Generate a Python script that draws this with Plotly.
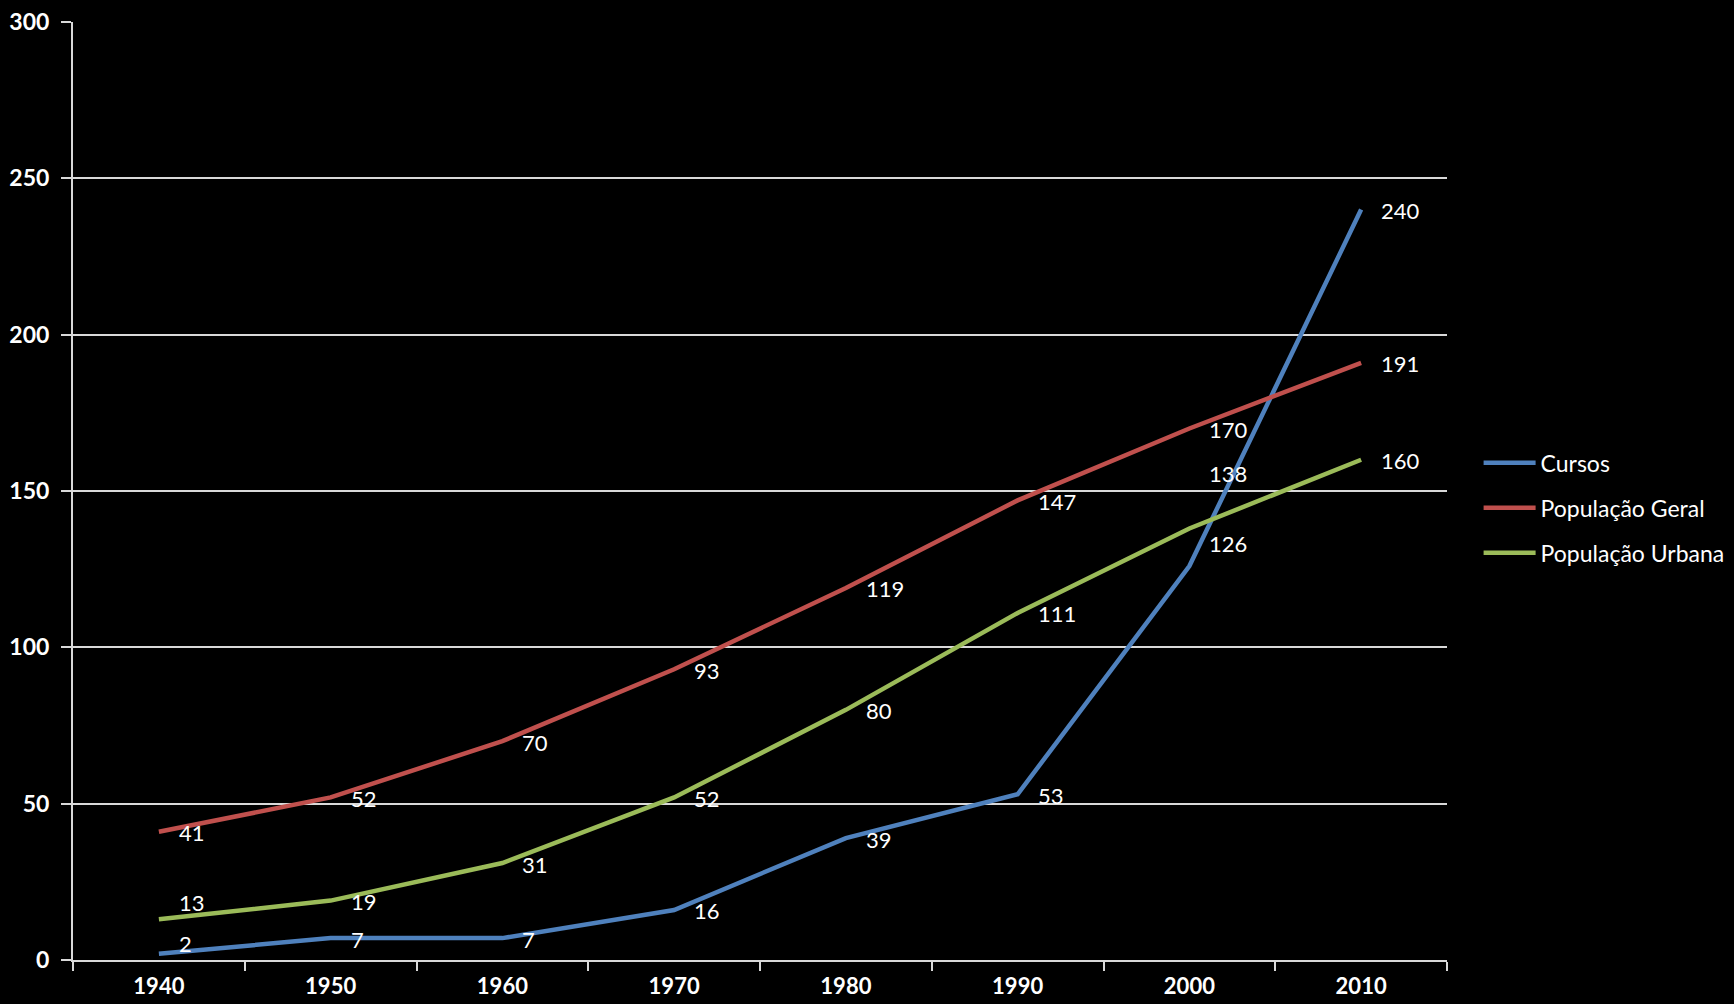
import plotly.graph_objects as go

years = ["1940", "1950", "1960", "1970", "1980", "1990", "2000", "2010"]
cursos = [2, 7, 7, 16, 39, 53, 126, 240]
pop_geral = [41, 52, 70, 93, 119, 147, 170, 191]
pop_urbana = [13, 19, 31, 52, 80, 111, 138, 160]
y_ticks = [0, 50, 100, 150, 200, 250, 300]

series = [
    ("Cursos", cursos, "#4F81BD"),
    ("População Geral", pop_geral, "#C0504D"),
    ("População Urbana", pop_urbana, "#9BBB59"),
]

# vertical label nudges (pixels) for labels moved off their default spot
label_nudge = {
    ("Cursos", 0): 10,
    ("Cursos", 6): 23,
    ("População Urbana", 0): 17,
    ("População Urbana", 6): 55,
}

FONT = "Lato"
fig = go.Figure()
annotations = []
for name, vals, color in series:
    fig.add_trace(go.Scatter(
        x=years, y=vals, name=name, mode="lines",
        line=dict(color=color, width=4.5),
        legendgroup=name,
    ))
    for i, v in enumerate(vals):
        annotations.append(dict(
            x=i, y=v, xref="x", yref="y", text=str(v), showarrow=False,
            xanchor="left", yanchor="middle", xshift=18,
            yshift=label_nudge.get((name, i), -1),
            font=dict(family=FONT, size=22, color="white"),
        ))

fig.update_layout(
    width=1734, height=1004,
    margin=dict(l=73, r=287, t=22, b=44, autoexpand=False),
    paper_bgcolor="black", plot_bgcolor="black",
    font=dict(family=FONT, color="white"),
    annotations=annotations,
    showlegend=True,
    legend=dict(
        x=1.023, y=0.482, xanchor="left", yanchor="middle",
        font=dict(family=FONT, size=23, color="white"),
        bgcolor="rgba(0,0,0,0)", tracegroupgap=12, itemwidth=52,
    ),
)
fig.update_xaxes(
    type="category", categoryorder="array", categoryarray=years,
    range=[-0.5, 7.5], tickson="boundaries", automargin=False,
    showgrid=False, showline=True, linecolor="#D9D9D9", linewidth=2,
    ticks="outside", ticklen=9, tickwidth=2, tickcolor="#D9D9D9",
    tickfont=dict(family=FONT, size=22, color="white", weight="bold"),
    ticklabelstandoff=6, zeroline=False, fixedrange=True,
)
fig.update_yaxes(
    range=[0, 300], tickvals=y_ticks, automargin=False,
    showgrid=True, gridcolor="#D9D9D9", gridwidth=2,
    showline=True, linecolor="#D9D9D9", linewidth=2,
    ticks="outside", ticklen=10, tickwidth=2, tickcolor="#D9D9D9",
    tickfont=dict(family=FONT, size=23, color="white", weight="bold"),
    ticklabelstandoff=7, zeroline=False, fixedrange=True,
)

fig.write_html(
    "out.html",
    config={"displayModeBar": False},
    post_script="document.body.style.margin='0';document.body.style.background='black';",
)
